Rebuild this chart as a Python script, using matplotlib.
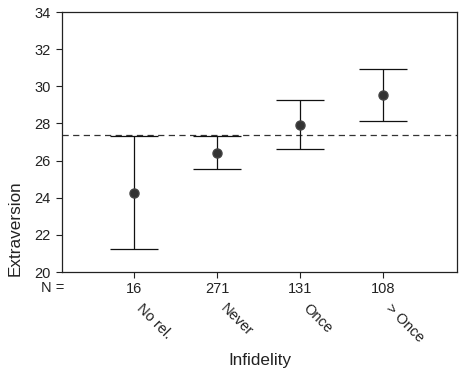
import matplotlib
matplotlib.use("Agg")
import matplotlib.pyplot as plt
from matplotlib.transforms import blended_transform_factory

plt.rcParams['font.family'] = ['Liberation Sans', 'DejaVu Sans']

categories = ["No rel.", "Never", "Once", "> Once"]
n_counts = ["16", "271", "131", "108"]
means = [24.27, 26.41, 27.93, 29.51]
upper = [27.32, 27.32, 29.24, 30.95]
lower = [21.22, 25.55, 26.64, 28.11]
reference_line = 27.38

fig = plt.figure(figsize=(4.65, 3.77), dpi=100)
ax = fig.add_axes([0.1333, 0.2785, 0.8495, 0.6895])

x = list(range(1, len(categories) + 1))
yerr = [[m - l for m, l in zip(means, lower)], [u - m for m, u in zip(means, upper)]]
ax.errorbar(x, means, yerr=yerr, fmt='o', color='#333333', ecolor='#111111',
            elinewidth=0.9, capsize=17, capthick=0.9, markersize=6.5,
            markeredgecolor='#444444', zorder=3)
ax.axhline(reference_line, color='#333333', lw=0.9, ls=(0, (5, 3.5)), zorder=2)

ax.set_xlim(0.13, 4.89)
ax.set_ylim(20, 34)
ax.set_yticks(range(20, 35, 2))
ax.set_xticks(x)
ax.set_xticklabels(n_counts)
ax.tick_params(axis='both', labelsize=10.5, length=4, width=0.8, color='#222222', labelcolor='#222222', pad=4)
ax.tick_params(axis='x', pad=3)
for s in ax.spines.values():
    s.set_linewidth(0.9)
    s.set_color('#222222')

tr = blended_transform_factory(ax.transData, fig.transFigure)
ax.text(0.007, -0.06, "N =", transform=ax.transAxes, ha='right', va='center', fontsize=10.5, color='#222222')
for xi, c in zip(x, categories):
    ax.text(xi + 0.12, 1 - 301 / 377, c, transform=tr, rotation=-45, rotation_mode='anchor',
            ha='left', va='top', fontsize=10.5, color='#222222')

fig.text(260 / 465, 1 - 360 / 377, "Infidelity", ha='center', va='center', fontsize=12.3, color='#222222')
fig.text(15 / 465, 1 - 228 / 377, "Extraversion", ha='center', va='center', rotation=90, fontsize=12.3, color='#222222')

fig.savefig("out.png", dpi=100)
